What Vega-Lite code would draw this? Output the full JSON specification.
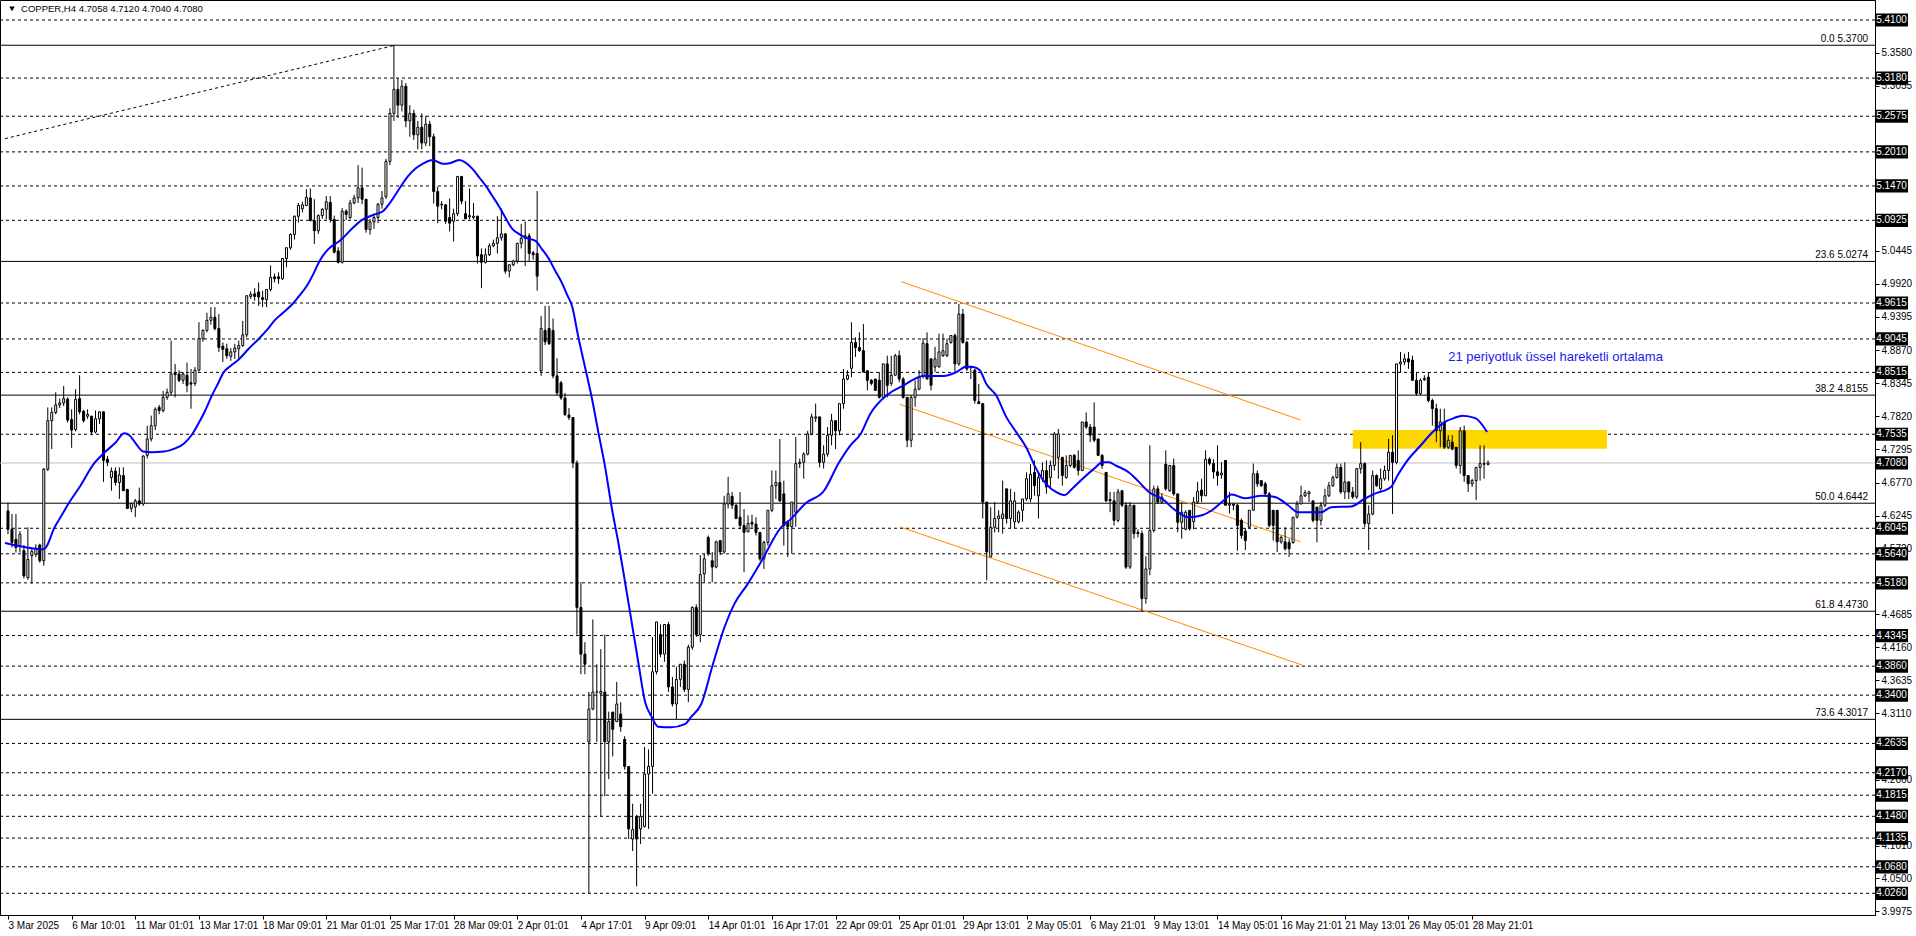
{
"$schema": "https://vega.github.io/schema/vega-lite/v6.json",
"width": 1875, "height": 915,
"autosize": {"type": "none"},
"padding": {"left": 0, "top": 0, "right": 41, "bottom": 21},
"background": "white",
"config": {"view": {"stroke": "black", "strokeWidth": 1}, "font": "Liberation Sans"},
"datasets": {
"levels": [{"p":5.41},{"p":5.318},{"p":5.2575},{"p":5.201},{"p":5.147},{"p":5.0925},{"p":4.9615},{"p":4.9045},{"p":4.8515},{"p":4.7535},{"p":4.6045},{"p":4.564},{"p":4.518},{"p":4.4345},{"p":4.386},{"p":4.34},{"p":4.2635},{"p":4.217},{"p":4.1815},{"p":4.148},{"p":4.1135},{"p":4.068},{"p":4.026}],
"boxes": [{"p":5.41},{"p":5.318},{"p":5.2575},{"p":5.201},{"p":5.147},{"p":5.0925},{"p":4.9615},{"p":4.9045},{"p":4.8515},{"p":4.7535},{"p":4.708},{"p":4.6045},{"p":4.564},{"p":4.518},{"p":4.4345},{"p":4.386},{"p":4.34},{"p":4.2635},{"p":4.217},{"p":4.1815},{"p":4.148},{"p":4.1135},{"p":4.068},{"p":4.026}],
"fibs": [{"p":5.37,"lab":"0.0 5.3700"},{"p":5.0274,"lab":"23.6 5.0274"},{"p":4.8155,"lab":"38.2 4.8155"},{"p":4.6442,"lab":"50.0 4.6442"},{"p":4.473,"lab":"61.8 4.4730"},{"p":4.3017,"lab":"73.6 4.3017"}],
"diag": [{"t":-0.75,"p":5.222},{"t":97.3,"p":5.37}],
"chan": [{"ch":"u","t":224.5,"p":4.9954},{"ch":"u","t":324.9,"p":4.7761},{"ch":"m","t":224.1,"p":4.801},{"ch":"m","t":324.9,"p":4.5832},{"ch":"l","t":224.1,"p":4.607},{"ch":"l","t":325.25,"p":4.3878}],
"zone": [{"t1":338.0,"t2":401.9,"p1":4.7306,"p2":4.7602}],
"ema": [{"t":-0.75,"p":4.581},{"t":3,"p":4.576},{"t":6,"p":4.573},{"t":8.5,"p":4.571},{"t":9.5,"p":4.574},{"t":11.6,"p":4.6045},{"t":13.5,"p":4.625},{"t":15.25,"p":4.644},{"t":18,"p":4.670},{"t":21.75,"p":4.708},{"t":24,"p":4.723},{"t":27,"p":4.740},{"t":29.25,"p":4.755},{"t":30.5,"p":4.752},{"t":32,"p":4.740},{"t":34,"p":4.726},{"t":36,"p":4.725},{"t":39.25,"p":4.726},{"t":42,"p":4.731},{"t":44.25,"p":4.739},{"t":46.3,"p":4.7535},{"t":48,"p":4.772},{"t":49.5,"p":4.790},{"t":51.3,"p":4.8155},{"t":52.8,"p":4.834},{"t":54.2,"p":4.8515},{"t":56,"p":4.862},{"t":58,"p":4.872},{"t":60.5,"p":4.889},{"t":63,"p":4.9045},{"t":65,"p":4.918},{"t":67,"p":4.934},{"t":69.5,"p":4.948},{"t":71.75,"p":4.9615},{"t":73.5,"p":4.975},{"t":75.25,"p":4.990},{"t":76.8,"p":5.008},{"t":78.25,"p":5.0274},{"t":80.5,"p":5.047},{"t":83.4,"p":5.060},{"t":86.75,"p":5.081},{"t":88.8,"p":5.0925},{"t":91.75,"p":5.101},{"t":94.25,"p":5.107},{"t":96,"p":5.120},{"t":98.4,"p":5.143},{"t":100.5,"p":5.162},{"t":102.5,"p":5.175},{"t":104.25,"p":5.182},{"t":106.75,"p":5.188},{"t":109.25,"p":5.182},{"t":111,"p":5.183},{"t":113.4,"p":5.188},{"t":115,"p":5.184},{"t":116.75,"p":5.174},{"t":118.5,"p":5.160},{"t":120.1,"p":5.147},{"t":121.75,"p":5.131},{"t":123.4,"p":5.115},{"t":125,"p":5.097},{"t":126.75,"p":5.079},{"t":128.4,"p":5.071},{"t":130.1,"p":5.065},{"t":132.6,"p":5.060},{"t":134.2,"p":5.047},{"t":135.9,"p":5.032},{"t":137.5,"p":5.013},{"t":139.25,"p":4.993},{"t":140.5,"p":4.975},{"t":141.75,"p":4.957},{"t":143.4,"p":4.906},{"t":145.1,"p":4.858},{"t":146.75,"p":4.811},{"t":148.4,"p":4.756},{"t":150.1,"p":4.701},{"t":151.75,"p":4.637},{"t":153.4,"p":4.582},{"t":155.1,"p":4.519},{"t":156.75,"p":4.456},{"t":158.4,"p":4.393},{"t":160.1,"p":4.330},{"t":161.75,"p":4.306},{"t":163.4,"p":4.290},{"t":166.75,"p":4.289},{"t":170.1,"p":4.294},{"t":171.75,"p":4.306},{"t":174.25,"p":4.326},{"t":177,"p":4.385},{"t":180.1,"p":4.448},{"t":182.6,"p":4.485},{"t":185.9,"p":4.516},{"t":189.7,"p":4.556},{"t":194.1,"p":4.6045},{"t":196.75,"p":4.619},{"t":200.5,"p":4.6442},{"t":205.1,"p":4.664},{"t":208.8,"p":4.708},{"t":211.75,"p":4.736},{"t":214.25,"p":4.7535},{"t":216.75,"p":4.786},{"t":220.9,"p":4.8155},{"t":225.1,"p":4.831},{"t":230.1,"p":4.846},{"t":235.1,"p":4.846},{"t":238.4,"p":4.852},{"t":240.9,"p":4.861},{"t":242.6,"p":4.860},{"t":244.25,"p":4.855},{"t":245.9,"p":4.833},{"t":248.4,"p":4.815},{"t":250.9,"p":4.781},{"t":253.4,"p":4.757},{"t":255.9,"p":4.733},{"t":258.4,"p":4.699},{"t":260.9,"p":4.675},{"t":263.4,"p":4.662},{"t":265.5,"p":4.657},{"t":267.6,"p":4.668},{"t":270.1,"p":4.683},{"t":273,"p":4.699},{"t":275.1,"p":4.709},{"t":276.75,"p":4.709},{"t":278.4,"p":4.704},{"t":281.75,"p":4.693},{"t":284.25,"p":4.678},{"t":286.75,"p":4.662},{"t":290.1,"p":4.651},{"t":293.4,"p":4.633},{"t":296.75,"p":4.622},{"t":300.1,"p":4.625},{"t":302.6,"p":4.633},{"t":305.1,"p":4.646},{"t":307.6,"p":4.658},{"t":310.9,"p":4.652},{"t":315.1,"p":4.656},{"t":318.4,"p":4.654},{"t":321.75,"p":4.641},{"t":324.25,"p":4.630},{"t":330.1,"p":4.630},{"t":332.6,"p":4.638},{"t":337.6,"p":4.639},{"t":340.9,"p":4.651},{"t":343.4,"p":4.659},{"t":347.6,"p":4.670},{"t":349.25,"p":4.688},{"t":351.75,"p":4.712},{"t":355.1,"p":4.736},{"t":358.4,"p":4.759},{"t":361.75,"p":4.775},{"t":363.4,"p":4.779},{"t":365.5,"p":4.783},{"t":368.8,"p":4.779},{"t":371.75,"p":4.757}],
"candles": [
{"t":0,"o":4.632,"h":4.645,"l":4.595,"c":4.603},{"t":1,"o":4.603,"h":4.627,"l":4.574,"c":4.582},{"t":2,"o":4.587,"h":4.627,"l":4.566,"c":4.574},{"t":3,"o":4.577,"h":4.600,"l":4.566,"c":4.595},{"t":4,"o":4.569,"h":4.578,"l":4.525,"c":4.529},{"t":5,"o":4.526,"h":4.606,"l":4.523,"c":4.555},{"t":6,"o":4.561,"h":4.574,"l":4.517,"c":4.568},{"t":7,"o":4.563,"h":4.579,"l":4.559,"c":4.572},{"t":8,"o":4.578,"h":4.580,"l":4.550,"c":4.553},{"t":9,"o":4.553,"h":4.700,"l":4.545,"c":4.698},
{"t":10,"o":4.698,"h":4.796,"l":4.695,"c":4.775},{"t":11,"o":4.775,"h":4.796,"l":4.730,"c":4.788},{"t":12,"o":4.788,"h":4.820,"l":4.785,"c":4.800},{"t":13,"o":4.800,"h":4.810,"l":4.795,"c":4.803},{"t":14,"o":4.803,"h":4.830,"l":4.798,"c":4.810},{"t":15,"o":4.809,"h":4.812,"l":4.772,"c":4.776},{"t":16,"o":4.777,"h":4.793,"l":4.732,"c":4.760},{"t":17,"o":4.761,"h":4.825,"l":4.758,"c":4.809},{"t":18,"o":4.810,"h":4.847,"l":4.785,"c":4.789},{"t":19,"o":4.790,"h":4.792,"l":4.772,"c":4.775},
{"t":20,"o":4.782,"h":4.793,"l":4.778,"c":4.785},{"t":21,"o":4.782,"h":4.783,"l":4.752,"c":4.757},{"t":22,"o":4.757,"h":4.791,"l":4.755,"c":4.778},{"t":23,"o":4.778,"h":4.790,"l":4.770,"c":4.789},{"t":24,"o":4.789,"h":4.790,"l":4.678,"c":4.712},{"t":25,"o":4.714,"h":4.719,"l":4.703,"c":4.709},{"t":26,"o":4.685,"h":4.701,"l":4.664,"c":4.695},{"t":27,"o":4.695,"h":4.701,"l":4.672,"c":4.677},{"t":28,"o":4.677,"h":4.701,"l":4.651,"c":4.689},{"t":29,"o":4.688,"h":4.701,"l":4.664,"c":4.664},
{"t":30,"o":4.666,"h":4.667,"l":4.635,"c":4.636},{"t":31,"o":4.636,"h":4.645,"l":4.630,"c":4.644},{"t":32,"o":4.638,"h":4.651,"l":4.622,"c":4.648},{"t":33,"o":4.648,"h":4.669,"l":4.640,"c":4.643},{"t":34,"o":4.643,"h":4.720,"l":4.640,"c":4.719},{"t":35,"o":4.720,"h":4.767,"l":4.715,"c":4.746},{"t":36,"o":4.746,"h":4.783,"l":4.742,"c":4.767},{"t":37,"o":4.767,"h":4.796,"l":4.760,"c":4.793},{"t":38,"o":4.796,"h":4.800,"l":4.785,"c":4.791},{"t":39,"o":4.791,"h":4.822,"l":4.788,"c":4.812},
{"t":40,"o":4.812,"h":4.826,"l":4.808,"c":4.820},{"t":41,"o":4.820,"h":4.902,"l":4.815,"c":4.849},{"t":42,"o":4.851,"h":4.865,"l":4.812,"c":4.848},{"t":43,"o":4.849,"h":4.855,"l":4.836,"c":4.839},{"t":44,"o":4.839,"h":4.852,"l":4.833,"c":4.849},{"t":45,"o":4.847,"h":4.867,"l":4.820,"c":4.831},{"t":46,"o":4.835,"h":4.857,"l":4.794,"c":4.833},{"t":47,"o":4.834,"h":4.860,"l":4.830,"c":4.855},{"t":48,"o":4.855,"h":4.931,"l":4.853,"c":4.905},{"t":49,"o":4.905,"h":4.920,"l":4.900,"c":4.918},
{"t":50,"o":4.918,"h":4.946,"l":4.915,"c":4.934},{"t":51,"o":4.934,"h":4.955,"l":4.927,"c":4.939},{"t":52,"o":4.939,"h":4.955,"l":4.918,"c":4.921},{"t":53,"o":4.921,"h":4.944,"l":4.884,"c":4.891},{"t":54,"o":4.893,"h":4.899,"l":4.868,"c":4.888},{"t":55,"o":4.889,"h":4.897,"l":4.873,"c":4.878},{"t":56,"o":4.877,"h":4.890,"l":4.870,"c":4.884},{"t":57,"o":4.884,"h":4.897,"l":4.873,"c":4.890},{"t":58,"o":4.889,"h":4.902,"l":4.873,"c":4.894},{"t":59,"o":4.894,"h":4.933,"l":4.892,"c":4.911},
{"t":60,"o":4.911,"h":4.974,"l":4.907,"c":4.973},{"t":61,"o":4.972,"h":4.980,"l":4.968,"c":4.975},{"t":62,"o":4.976,"h":4.985,"l":4.965,"c":4.972},{"t":63,"o":4.979,"h":4.994,"l":4.957,"c":4.971},{"t":64,"o":4.970,"h":4.981,"l":4.955,"c":4.967},{"t":65,"o":4.967,"h":4.983,"l":4.955,"c":4.983},{"t":66,"o":4.983,"h":5.021,"l":4.980,"c":5.002},{"t":67,"o":5.003,"h":5.008,"l":4.994,"c":5.000},{"t":68,"o":5.003,"h":5.010,"l":4.992,"c":5.000},{"t":69,"o":5.000,"h":5.033,"l":4.998,"c":5.032},
{"t":70,"o":5.032,"h":5.050,"l":5.018,"c":5.049},{"t":71,"o":5.049,"h":5.072,"l":5.046,"c":5.070},{"t":72,"o":5.070,"h":5.100,"l":5.062,"c":5.099},{"t":73,"o":5.099,"h":5.120,"l":5.089,"c":5.116},{"t":74,"o":5.111,"h":5.122,"l":5.105,"c":5.117},{"t":75,"o":5.116,"h":5.142,"l":5.115,"c":5.129},{"t":76,"o":5.128,"h":5.143,"l":5.091,"c":5.092},{"t":77,"o":5.092,"h":5.126,"l":5.055,"c":5.076},{"t":78,"o":5.076,"h":5.102,"l":5.071,"c":5.100},{"t":79,"o":5.100,"h":5.112,"l":5.095,"c":5.110},
{"t":80,"o":5.110,"h":5.131,"l":5.094,"c":5.122},{"t":81,"o":5.121,"h":5.131,"l":5.089,"c":5.094},{"t":82,"o":5.094,"h":5.100,"l":5.040,"c":5.042},{"t":83,"o":5.044,"h":5.050,"l":5.024,"c":5.026},{"t":84,"o":5.026,"h":5.112,"l":5.024,"c":5.107},{"t":85,"o":5.107,"h":5.110,"l":5.093,"c":5.102},{"t":86,"o":5.097,"h":5.125,"l":5.094,"c":5.120},{"t":87,"o":5.120,"h":5.133,"l":5.118,"c":5.128},{"t":88,"o":5.128,"h":5.180,"l":5.120,"c":5.144},{"t":89,"o":5.144,"h":5.176,"l":5.118,"c":5.126},
{"t":90,"o":5.126,"h":5.126,"l":5.073,"c":5.078},{"t":91,"o":5.078,"h":5.095,"l":5.070,"c":5.090},{"t":92,"o":5.090,"h":5.103,"l":5.079,"c":5.097},{"t":93,"o":5.097,"h":5.120,"l":5.088,"c":5.118},{"t":94,"o":5.118,"h":5.139,"l":5.111,"c":5.128},{"t":95,"o":5.130,"h":5.190,"l":5.126,"c":5.186},{"t":96,"o":5.186,"h":5.270,"l":5.180,"c":5.262},{"t":97,"o":5.262,"h":5.370,"l":5.250,"c":5.300},{"t":98,"o":5.300,"h":5.318,"l":5.255,"c":5.275},{"t":99,"o":5.275,"h":5.315,"l":5.265,"c":5.305},
{"t":100,"o":5.305,"h":5.310,"l":5.240,"c":5.250},{"t":101,"o":5.250,"h":5.275,"l":5.225,"c":5.262},{"t":102,"o":5.262,"h":5.268,"l":5.220,"c":5.228},{"t":103,"o":5.228,"h":5.250,"l":5.205,"c":5.240},{"t":104,"o":5.240,"h":5.262,"l":5.205,"c":5.215},{"t":105,"o":5.215,"h":5.258,"l":5.210,"c":5.245},{"t":106,"o":5.245,"h":5.250,"l":5.210,"c":5.225},{"t":107,"o":5.225,"h":5.230,"l":5.119,"c":5.138},{"t":108,"o":5.138,"h":5.146,"l":5.088,"c":5.115},{"t":109,"o":5.118,"h":5.123,"l":5.110,"c":5.117},
{"t":110,"o":5.117,"h":5.118,"l":5.087,"c":5.091},{"t":111,"o":5.097,"h":5.127,"l":5.075,"c":5.088},{"t":112,"o":5.091,"h":5.111,"l":5.059,"c":5.103},{"t":113,"o":5.103,"h":5.163,"l":5.099,"c":5.162},{"t":114,"o":5.162,"h":5.163,"l":5.118,"c":5.123},{"t":115,"o":5.103,"h":5.123,"l":5.095,"c":5.095},{"t":116,"o":5.098,"h":5.143,"l":5.094,"c":5.100},{"t":117,"o":5.097,"h":5.120,"l":5.094,"c":5.099},{"t":118,"o":5.099,"h":5.100,"l":5.024,"c":5.036},{"t":119,"o":5.038,"h":5.048,"l":4.985,"c":5.026},
{"t":120,"o":5.026,"h":5.048,"l":5.024,"c":5.038},{"t":121,"o":5.038,"h":5.056,"l":5.036,"c":5.052},{"t":122,"o":5.052,"h":5.062,"l":5.050,"c":5.056},{"t":123,"o":5.056,"h":5.099,"l":5.040,"c":5.065},{"t":124,"o":5.065,"h":5.111,"l":5.060,"c":5.071},{"t":125,"o":5.071,"h":5.072,"l":5.008,"c":5.012},{"t":126,"o":5.012,"h":5.023,"l":5.002,"c":5.022},{"t":127,"o":5.022,"h":5.030,"l":5.020,"c":5.028},{"t":128,"o":5.028,"h":5.057,"l":5.024,"c":5.056},{"t":129,"o":5.056,"h":5.087,"l":5.048,"c":5.064},
{"t":130,"o":5.064,"h":5.091,"l":5.020,"c":5.068},{"t":131,"o":5.068,"h":5.072,"l":5.028,"c":5.040},{"t":132,"o":5.041,"h":5.044,"l":5.030,"c":5.038},{"t":133,"o":5.040,"h":5.139,"l":4.981,"c":5.004},{"t":134,"o":4.854,"h":4.941,"l":4.846,"c":4.921},{"t":135,"o":4.918,"h":4.957,"l":4.895,"c":4.900},{"t":136,"o":4.921,"h":4.957,"l":4.895,"c":4.897},{"t":137,"o":4.918,"h":4.937,"l":4.842,"c":4.846},{"t":138,"o":4.846,"h":4.874,"l":4.815,"c":4.819},{"t":139,"o":4.835,"h":4.838,"l":4.808,"c":4.811},
{"t":140,"o":4.811,"h":4.819,"l":4.784,"c":4.784},{"t":141,"o":4.784,"h":4.795,"l":4.776,"c":4.780},{"t":142,"o":4.780,"h":4.780,"l":4.700,"c":4.708},{"t":143,"o":4.708,"h":4.712,"l":4.436,"c":4.479},{"t":144,"o":4.479,"h":4.519,"l":4.373,"c":4.405},{"t":145,"o":4.405,"h":4.424,"l":4.373,"c":4.389},{"t":146,"o":4.266,"h":4.345,"l":4.026,"c":4.318},{"t":147,"o":4.318,"h":4.460,"l":4.316,"c":4.345},{"t":148,"o":4.345,"h":4.389,"l":4.266,"c":4.345},{"t":149,"o":4.343,"h":4.413,"l":4.148,"c":4.346},
{"t":150,"o":4.345,"h":4.436,"l":4.180,"c":4.266},{"t":151,"o":4.266,"h":4.314,"l":4.207,"c":4.298},{"t":152,"o":4.313,"h":4.314,"l":4.243,"c":4.286},{"t":153,"o":4.298,"h":4.361,"l":4.298,"c":4.326},{"t":154,"o":4.310,"h":4.329,"l":4.282,"c":4.290},{"t":155,"o":4.270,"h":4.275,"l":4.222,"c":4.227},{"t":156,"o":4.227,"h":4.227,"l":4.112,"c":4.128},{"t":157,"o":4.112,"h":4.168,"l":4.093,"c":4.127},{"t":158,"o":4.148,"h":4.150,"l":4.037,"c":4.112},{"t":159,"o":4.128,"h":4.168,"l":4.104,"c":4.148},
{"t":160,"o":4.132,"h":4.258,"l":4.130,"c":4.215},{"t":161,"o":4.215,"h":4.254,"l":4.128,"c":4.227},{"t":162,"o":4.227,"h":4.432,"l":4.184,"c":4.377},{"t":163,"o":4.377,"h":4.456,"l":4.373,"c":4.456},{"t":164,"o":4.436,"h":4.452,"l":4.400,"c":4.405},{"t":165,"o":4.405,"h":4.452,"l":4.393,"c":4.452},{"t":166,"o":4.452,"h":4.456,"l":4.345,"c":4.353},{"t":167,"o":4.353,"h":4.369,"l":4.322,"c":4.326},{"t":168,"o":4.326,"h":4.385,"l":4.302,"c":4.365},{"t":169,"o":4.365,"h":4.389,"l":4.353,"c":4.389},
{"t":170,"o":4.389,"h":4.395,"l":4.345,"c":4.349},{"t":171,"o":4.349,"h":4.420,"l":4.329,"c":4.416},{"t":172,"o":4.416,"h":4.481,"l":4.412,"c":4.479},{"t":173,"o":4.479,"h":4.484,"l":4.432,"c":4.436},{"t":174,"o":4.436,"h":4.562,"l":4.424,"c":4.531},{"t":175,"o":4.532,"h":4.564,"l":4.519,"c":4.556},{"t":176,"o":4.590,"h":4.593,"l":4.561,"c":4.564},{"t":177,"o":4.553,"h":4.567,"l":4.519,"c":4.543},{"t":178,"o":4.543,"h":4.585,"l":4.541,"c":4.583},{"t":179,"o":4.585,"h":4.585,"l":4.562,"c":4.567},
{"t":180,"o":4.567,"h":4.656,"l":4.564,"c":4.643},{"t":181,"o":4.643,"h":4.686,"l":4.636,"c":4.659},{"t":182,"o":4.655,"h":4.662,"l":4.635,"c":4.641},{"t":183,"o":4.641,"h":4.643,"l":4.619,"c":4.620},{"t":184,"o":4.622,"h":4.662,"l":4.603,"c":4.609},{"t":185,"o":4.609,"h":4.635,"l":4.535,"c":4.598},{"t":186,"o":4.599,"h":4.625,"l":4.598,"c":4.612},{"t":187,"o":4.614,"h":4.626,"l":4.605,"c":4.611},{"t":188,"o":4.611,"h":4.622,"l":4.593,"c":4.598},{"t":189,"o":4.598,"h":4.598,"l":4.553,"c":4.556},
{"t":190,"o":4.556,"h":4.585,"l":4.540,"c":4.582},{"t":191,"o":4.582,"h":4.633,"l":4.577,"c":4.633},{"t":192,"o":4.633,"h":4.696,"l":4.630,"c":4.672},{"t":193,"o":4.672,"h":4.696,"l":4.651,"c":4.677},{"t":194,"o":4.677,"h":4.746,"l":4.646,"c":4.648},{"t":195,"o":4.659,"h":4.680,"l":4.577,"c":4.609},{"t":196,"o":4.615,"h":4.617,"l":4.559,"c":4.607},{"t":197,"o":4.607,"h":4.646,"l":4.564,"c":4.646},{"t":198,"o":4.630,"h":4.749,"l":4.607,"c":4.707},{"t":199,"o":4.707,"h":4.715,"l":4.700,"c":4.709},
{"t":200,"o":4.709,"h":4.725,"l":4.683,"c":4.722},{"t":201,"o":4.722,"h":4.759,"l":4.720,"c":4.754},{"t":202,"o":4.754,"h":4.786,"l":4.752,"c":4.781},{"t":203,"o":4.779,"h":4.802,"l":4.773,"c":4.781},{"t":204,"o":4.781,"h":4.781,"l":4.701,"c":4.709},{"t":205,"o":4.709,"h":4.736,"l":4.699,"c":4.722},{"t":206,"o":4.722,"h":4.765,"l":4.718,"c":4.752},{"t":207,"o":4.752,"h":4.786,"l":4.736,"c":4.775},{"t":208,"o":4.775,"h":4.775,"l":4.730,"c":4.759},{"t":209,"o":4.759,"h":4.802,"l":4.752,"c":4.802},
{"t":210,"o":4.802,"h":4.857,"l":4.794,"c":4.841},{"t":211,"o":4.841,"h":4.855,"l":4.839,"c":4.847},{"t":212,"o":4.858,"h":4.931,"l":4.844,"c":4.899},{"t":213,"o":4.899,"h":4.907,"l":4.876,"c":4.891},{"t":214,"o":4.891,"h":4.915,"l":4.884,"c":4.886},{"t":215,"o":4.886,"h":4.928,"l":4.852,"c":4.852},{"t":216,"o":4.854,"h":4.855,"l":4.823,"c":4.839},{"t":217,"o":4.839,"h":4.841,"l":4.831,"c":4.834},{"t":218,"o":4.841,"h":4.841,"l":4.823,"c":4.823},{"t":219,"o":4.839,"h":4.852,"l":4.810,"c":4.812},
{"t":220,"o":4.812,"h":4.865,"l":4.810,"c":4.865},{"t":221,"o":4.865,"h":4.878,"l":4.812,"c":4.831},{"t":222,"o":4.834,"h":4.878,"l":4.830,"c":4.847},{"t":223,"o":4.847,"h":4.881,"l":4.847,"c":4.878},{"t":224,"o":4.878,"h":4.886,"l":4.836,"c":4.841},{"t":225,"o":4.841,"h":4.844,"l":4.810,"c":4.812},{"t":226,"o":4.812,"h":4.812,"l":4.733,"c":4.744},{"t":227,"o":4.744,"h":4.815,"l":4.733,"c":4.812},{"t":228,"o":4.812,"h":4.839,"l":4.797,"c":4.825},{"t":229,"o":4.825,"h":4.855,"l":4.823,"c":4.844},
{"t":230,"o":4.846,"h":4.906,"l":4.842,"c":4.898},{"t":231,"o":4.897,"h":4.915,"l":4.841,"c":4.841},{"t":232,"o":4.873,"h":4.873,"l":4.823,"c":4.831},{"t":233,"o":4.860,"h":4.892,"l":4.852,"c":4.873},{"t":234,"o":4.860,"h":4.913,"l":4.860,"c":4.884},{"t":235,"o":4.878,"h":4.913,"l":4.876,"c":4.886},{"t":236,"o":4.878,"h":4.905,"l":4.876,"c":4.897},{"t":237,"o":4.899,"h":4.910,"l":4.897,"c":4.910},{"t":238,"o":4.910,"h":4.913,"l":4.852,"c":4.865},{"t":239,"o":4.865,"h":4.960,"l":4.862,"c":4.944},
{"t":240,"o":4.944,"h":4.952,"l":4.897,"c":4.899},{"t":241,"o":4.899,"h":4.902,"l":4.854,"c":4.857},{"t":242,"o":4.860,"h":4.862,"l":4.841,"c":4.859},{"t":243,"o":4.855,"h":4.857,"l":4.802,"c":4.807},{"t":244,"o":4.805,"h":4.833,"l":4.802,"c":4.802},{"t":245,"o":4.802,"h":4.802,"l":4.620,"c":4.646},{"t":246,"o":4.646,"h":4.646,"l":4.522,"c":4.567},{"t":247,"o":4.559,"h":4.638,"l":4.559,"c":4.606},{"t":248,"o":4.606,"h":4.646,"l":4.598,"c":4.620},{"t":249,"o":4.620,"h":4.633,"l":4.598,"c":4.624},
{"t":250,"o":4.620,"h":4.680,"l":4.596,"c":4.627},{"t":251,"o":4.667,"h":4.667,"l":4.612,"c":4.620},{"t":252,"o":4.620,"h":4.667,"l":4.604,"c":4.648},{"t":253,"o":4.615,"h":4.662,"l":4.604,"c":4.648},{"t":254,"o":4.615,"h":4.633,"l":4.612,"c":4.630},{"t":255,"o":4.633,"h":4.651,"l":4.615,"c":4.651},{"t":256,"o":4.651,"h":4.693,"l":4.648,"c":4.683},{"t":257,"o":4.651,"h":4.706,"l":4.646,"c":4.690},{"t":258,"o":4.693,"h":4.712,"l":4.656,"c":4.672},{"t":259,"o":4.656,"h":4.693,"l":4.620,"c":4.685},
{"t":260,"o":4.683,"h":4.709,"l":4.678,"c":4.696},{"t":261,"o":4.696,"h":4.712,"l":4.659,"c":4.670},{"t":262,"o":4.685,"h":4.712,"l":4.667,"c":4.704},{"t":263,"o":4.704,"h":4.757,"l":4.696,"c":4.754},{"t":264,"o":4.717,"h":4.762,"l":4.683,"c":4.754},{"t":265,"o":4.717,"h":4.717,"l":4.672,"c":4.688},{"t":266,"o":4.685,"h":4.720,"l":4.683,"c":4.704},{"t":267,"o":4.704,"h":4.720,"l":4.701,"c":4.720},{"t":268,"o":4.720,"h":4.722,"l":4.699,"c":4.701},{"t":269,"o":4.712,"h":4.728,"l":4.688,"c":4.696},
{"t":270,"o":4.696,"h":4.773,"l":4.696,"c":4.773},{"t":271,"o":4.773,"h":4.788,"l":4.762,"c":4.765},{"t":272,"o":4.765,"h":4.770,"l":4.741,"c":4.752},{"t":273,"o":4.765,"h":4.804,"l":4.741,"c":4.744},{"t":274,"o":4.746,"h":4.746,"l":4.720,"c":4.720},{"t":275,"o":4.720,"h":4.722,"l":4.699,"c":4.704},{"t":276,"o":4.693,"h":4.693,"l":4.646,"c":4.648},{"t":277,"o":4.650,"h":4.662,"l":4.630,"c":4.648},{"t":278,"o":4.648,"h":4.662,"l":4.609,"c":4.617},{"t":279,"o":4.617,"h":4.667,"l":4.614,"c":4.662},
{"t":280,"o":4.664,"h":4.664,"l":4.638,"c":4.641},{"t":281,"o":4.641,"h":4.646,"l":4.540,"c":4.543},{"t":282,"o":4.543,"h":4.646,"l":4.540,"c":4.641},{"t":283,"o":4.641,"h":4.641,"l":4.588,"c":4.596},{"t":284,"o":4.598,"h":4.603,"l":4.590,"c":4.596},{"t":285,"o":4.596,"h":4.601,"l":4.473,"c":4.493},{"t":286,"o":4.493,"h":4.560,"l":4.485,"c":4.540},{"t":287,"o":4.540,"h":4.736,"l":4.530,"c":4.601},{"t":288,"o":4.601,"h":4.672,"l":4.598,"c":4.667},{"t":289,"o":4.667,"h":4.672,"l":4.643,"c":4.646},
{"t":290,"o":4.646,"h":4.660,"l":4.643,"c":4.654},{"t":291,"o":4.706,"h":4.728,"l":4.664,"c":4.667},{"t":292,"o":4.664,"h":4.704,"l":4.662,"c":4.704},{"t":293,"o":4.704,"h":4.715,"l":4.656,"c":4.659},{"t":294,"o":4.659,"h":4.659,"l":4.598,"c":4.614},{"t":295,"o":4.614,"h":4.646,"l":4.588,"c":4.630},{"t":296,"o":4.603,"h":4.633,"l":4.601,"c":4.630},{"t":297,"o":4.633,"h":4.633,"l":4.601,"c":4.604},{"t":298,"o":4.615,"h":4.654,"l":4.603,"c":4.646},{"t":299,"o":4.646,"h":4.678,"l":4.643,"c":4.663},
{"t":300,"o":4.665,"h":4.683,"l":4.646,"c":4.656},{"t":301,"o":4.656,"h":4.728,"l":4.656,"c":4.714},{"t":302,"o":4.714,"h":4.717,"l":4.704,"c":4.707},{"t":303,"o":4.707,"h":4.714,"l":4.683,"c":4.694},{"t":304,"o":4.694,"h":4.736,"l":4.672,"c":4.688},{"t":305,"o":4.689,"h":4.709,"l":4.683,"c":4.692},{"t":306,"o":4.712,"h":4.712,"l":4.641,"c":4.641},{"t":307,"o":4.641,"h":4.662,"l":4.628,"c":4.643},{"t":308,"o":4.643,"h":4.643,"l":4.633,"c":4.641},{"t":309,"o":4.641,"h":4.643,"l":4.569,"c":4.609},
{"t":310,"o":4.617,"h":4.620,"l":4.588,"c":4.593},{"t":311,"o":4.600,"h":4.605,"l":4.570,"c":4.585},{"t":312,"o":4.606,"h":4.633,"l":4.604,"c":4.633},{"t":313,"o":4.633,"h":4.707,"l":4.633,"c":4.691},{"t":314,"o":4.691,"h":4.696,"l":4.670,"c":4.675},{"t":315,"o":4.680,"h":4.680,"l":4.670,"c":4.672},{"t":316,"o":4.675,"h":4.678,"l":4.656,"c":4.659},{"t":317,"o":4.659,"h":4.662,"l":4.606,"c":4.609},{"t":318,"o":4.633,"h":4.633,"l":4.585,"c":4.609},{"t":319,"o":4.633,"h":4.633,"l":4.567,"c":4.583},
{"t":320,"o":4.583,"h":4.593,"l":4.580,"c":4.590},{"t":321,"o":4.583,"h":4.606,"l":4.569,"c":4.572},{"t":322,"o":4.582,"h":4.588,"l":4.559,"c":4.572},{"t":323,"o":4.582,"h":4.622,"l":4.580,"c":4.622},{"t":324,"o":4.622,"h":4.648,"l":4.620,"c":4.643},{"t":325,"o":4.643,"h":4.672,"l":4.643,"c":4.656},{"t":326,"o":4.656,"h":4.665,"l":4.654,"c":4.661},{"t":327,"o":4.659,"h":4.664,"l":4.646,"c":4.662},{"t":328,"o":4.648,"h":4.648,"l":4.614,"c":4.617},{"t":329,"o":4.638,"h":4.638,"l":4.582,"c":4.617},
{"t":330,"o":4.617,"h":4.646,"l":4.609,"c":4.641},{"t":331,"o":4.641,"h":4.667,"l":4.638,"c":4.656},{"t":332,"o":4.656,"h":4.678,"l":4.654,"c":4.672},{"t":333,"o":4.672,"h":4.688,"l":4.670,"c":4.685},{"t":334,"o":4.685,"h":4.707,"l":4.683,"c":4.701},{"t":335,"o":4.701,"h":4.707,"l":4.659,"c":4.662},{"t":336,"o":4.662,"h":4.709,"l":4.651,"c":4.678},{"t":337,"o":4.678,"h":4.678,"l":4.651,"c":4.662},{"t":338,"o":4.662,"h":4.670,"l":4.651,"c":4.654},{"t":339,"o":4.654,"h":4.699,"l":4.651,"c":4.699},
{"t":340,"o":4.699,"h":4.741,"l":4.691,"c":4.707},{"t":341,"o":4.707,"h":4.709,"l":4.606,"c":4.612},{"t":342,"o":4.612,"h":4.641,"l":4.570,"c":4.627},{"t":343,"o":4.627,"h":4.696,"l":4.625,"c":4.688},{"t":344,"o":4.688,"h":4.690,"l":4.670,"c":4.672},{"t":345,"o":4.667,"h":4.699,"l":4.664,"c":4.683},{"t":346,"o":4.683,"h":4.704,"l":4.680,"c":4.696},{"t":347,"o":4.696,"h":4.746,"l":4.680,"c":4.725},{"t":348,"o":4.725,"h":4.752,"l":4.627,"c":4.709},{"t":349,"o":4.709,"h":4.865,"l":4.706,"c":4.865},
{"t":350,"o":4.865,"h":4.884,"l":4.852,"c":4.868},{"t":351,"o":4.868,"h":4.881,"l":4.863,"c":4.873},{"t":352,"o":4.873,"h":4.884,"l":4.857,"c":4.868},{"t":353,"o":4.871,"h":4.878,"l":4.839,"c":4.839},{"t":354,"o":4.839,"h":4.852,"l":4.815,"c":4.818},{"t":355,"o":4.818,"h":4.842,"l":4.815,"c":4.839},{"t":356,"o":4.840,"h":4.847,"l":4.838,"c":4.842},{"t":357,"o":4.844,"h":4.852,"l":4.804,"c":4.807},{"t":358,"o":4.807,"h":4.810,"l":4.767,"c":4.794},{"t":359,"o":4.794,"h":4.802,"l":4.741,"c":4.759},
{"t":360,"o":4.759,"h":4.794,"l":4.733,"c":4.773},{"t":361,"o":4.773,"h":4.794,"l":4.730,"c":4.733},{"t":362,"o":4.733,"h":4.752,"l":4.730,"c":4.744},{"t":363,"o":4.741,"h":4.752,"l":4.728,"c":4.730},{"t":364,"o":4.733,"h":4.733,"l":4.699,"c":4.704},{"t":365,"o":4.704,"h":4.765,"l":4.691,"c":4.759},{"t":366,"o":4.759,"h":4.767,"l":4.678,"c":4.688},{"t":367,"o":4.688,"h":4.688,"l":4.662,"c":4.675},{"t":368,"o":4.675,"h":4.683,"l":4.670,"c":4.680},{"t":369,"o":4.680,"h":4.701,"l":4.649,"c":4.701},
{"t":370,"o":4.701,"h":4.736,"l":4.680,"c":4.707},{"t":371,"o":4.707,"h":4.736,"l":4.683,"c":4.706},{"t":372,"o":4.7058,"h":4.712,"l":4.704,"c":4.708}
]
},
"layer": [
{"data": {"name": "levels"}, "mark": {"type": "rule", "color": "black", "strokeWidth": 1, "strokeDash": [3, 3]},
 "encoding": {"y": {"field": "p", "type": "quantitative", "title": null,
   "scale": {"domain": [3.9916, 5.4417], "nice": false, "zero": false},
   "axis": {"orient": "right", "title": null, "values": [5.358, 5.3055, 5.0445, 4.992, 4.9395, 4.887, 4.8345, 4.782, 4.7295, 4.677, 4.6245, 4.572, 4.4685, 4.416, 4.3635, 4.311, 4.206, 4.101, 4.05, 3.9975],
     "format": ".4f", "grid": false, "domain": true, "domainColor": "black", "tickColor": "black", "tickSize": 4, "labelPadding": 2,
     "labelFont": "Liberation Sans", "labelFontSize": 10, "labelColor": "black", "labelOverlap": false, "labelBound": false, "labelFlush": false}}}},
{"data": {"name": "fibs"}, "mark": {"type": "rule", "color": "black", "strokeWidth": 1},
 "encoding": {"y": {"field": "p", "type": "quantitative", "title": null}}},
{"data": {"values": [{"p": 4.708}]}, "mark": {"type": "rule", "color": "#c0c0c0", "strokeWidth": 1},
 "encoding": {"y": {"field": "p", "type": "quantitative", "title": null}}},
{"data": {"name": "diag"}, "mark": {"type": "line", "color": "black", "strokeWidth": 1, "strokeDash": [3, 3]},
 "encoding": {"x": {"field": "t", "type": "quantitative", "title": null}, "y": {"field": "p", "type": "quantitative", "title": null}}},
{"data": {"name": "zone"}, "mark": {"type": "rect", "color": "#FFD700", "opacity": 1},
 "encoding": {"x": {"field": "t1", "type": "quantitative", "title": null}, "x2": {"field": "t2"}, "y": {"field": "p1", "type": "quantitative", "title": null}, "y2": {"field": "p2"}}},
{"data": {"name": "chan"}, "mark": {"type": "line", "color": "#FF8C00", "strokeWidth": 1},
 "encoding": {"x": {"field": "t", "type": "quantitative", "title": null}, "y": {"field": "p", "type": "quantitative", "title": null}, "detail": {"field": "ch"}}},
{"data": {"name": "candles"}, "mark": {"type": "rule", "color": "black", "strokeWidth": 1},
 "encoding": {"x": {"field": "t", "type": "quantitative", "title": null,
   "scale": {"domain": [-0.75, 468], "nice": false, "zero": false},
   "axis": {"title": null, "values": [0,16,32,48,64,80,96,112,128,144,160,176,192,208,224,240,256,272,288,304,320,336,352,368],
     "labelExpr": "['3 Mar 2025','6 Mar 10:01','11 Mar 01:01','13 Mar 17:01','18 Mar 09:01','21 Mar 01:01','25 Mar 17:01','28 Mar 09:01','2 Apr 01:01','4 Apr 17:01','9 Apr 09:01','14 Apr 01:01','16 Apr 17:01','22 Apr 09:01','25 Apr 01:01','29 Apr 13:01','2 May 05:01','6 May 21:01','9 May 13:01','14 May 05:01','16 May 21:01','21 May 13:01','26 May 05:01','28 May 21:01'][round(datum.value/16)]",
     "grid": false, "domainColor": "black", "tickColor": "black", "tickSize": 4, "labelPadding": 1, "labelAlign": "left", "labelBaseline": "top",
     "labelFont": "Liberation Sans", "labelFontSize": 10, "labelColor": "black", "labelOverlap": false, "labelBound": false, "labelFlush": false}},
   "y": {"field": "l", "type": "quantitative", "title": null}, "y2": {"field": "h"}}},
{"data": {"name": "candles"}, "mark": {"type": "bar", "width": 2, "stroke": "black", "strokeWidth": 1},
 "encoding": {"x": {"field": "t", "type": "quantitative", "title": null}, "y": {"field": "o", "type": "quantitative", "title": null}, "y2": {"field": "c"},
   "fill": {"condition": {"test": "datum.c >= datum.o", "value": "white"}, "value": "black"}}},
{"data": {"name": "ema"}, "mark": {"type": "line", "color": "#0000FF", "strokeWidth": 2, "interpolate": "monotone"},
 "encoding": {"x": {"field": "t", "type": "quantitative", "title": null}, "y": {"field": "p", "type": "quantitative", "title": null}}},
{"data": {"name": "fibs"}, "mark": {"type": "text", "align": "right", "baseline": "alphabetic", "dy": -3, "font": "Liberation Sans", "fontSize": 10, "color": "black"},
 "encoding": {"x": {"datum": 467.5}, "y": {"field": "p", "type": "quantitative", "title": null}, "text": {"field": "lab"}}},
{"data": {"values": [{"t": 362.0, "p": 4.876, "txt": "21 periyotluk üssel hareketli ortalama"}]}, "mark": {"type": "text", "align": "left", "baseline": "middle", "font": "Liberation Sans", "fontSize": 13, "color": "#1a1aee"},
 "encoding": {"x": {"field": "t", "type": "quantitative", "title": null}, "y": {"field": "p", "type": "quantitative", "title": null}, "text": {"field": "txt"}}},
{"data": {"values": [{"t": 1.0, "p": 5.4275}]}, "mark": {"type": "point", "shape": "triangle-down", "filled": true, "color": "black", "size": 30, "opacity": 1},
 "encoding": {"x": {"field": "t", "type": "quantitative", "title": null}, "y": {"field": "p", "type": "quantitative", "title": null}}},
{"data": {"values": [{"t": 3.3, "p": 5.4275, "txt": "COPPER,H4  4.7058 4.7120 4.7040 4.7080"}]}, "mark": {"type": "text", "align": "left", "baseline": "middle", "font": "Liberation Sans", "fontSize": 9.5, "color": "black"},
 "encoding": {"x": {"field": "t", "type": "quantitative", "title": null}, "y": {"field": "p", "type": "quantitative", "title": null}, "text": {"field": "txt"}}},
{"data": {"name": "boxes"}, "mark": {"type": "point", "shape": "M-1,-0.4L1,-0.4L1,0.4L-1,0.4Z", "filled": true, "color": "black", "size": 1089, "opacity": 1},
 "encoding": {"x": {"datum": 473.4}, "y": {"field": "p", "type": "quantitative", "title": null}}},
{"data": {"name": "boxes"}, "mark": {"type": "text", "align": "center", "baseline": "middle", "font": "Liberation Sans", "fontSize": 10, "color": "white"},
 "encoding": {"x": {"datum": 473.4}, "y": {"field": "p", "type": "quantitative", "title": null}, "text": {"field": "p", "format": ".4f"}}}
]
}
